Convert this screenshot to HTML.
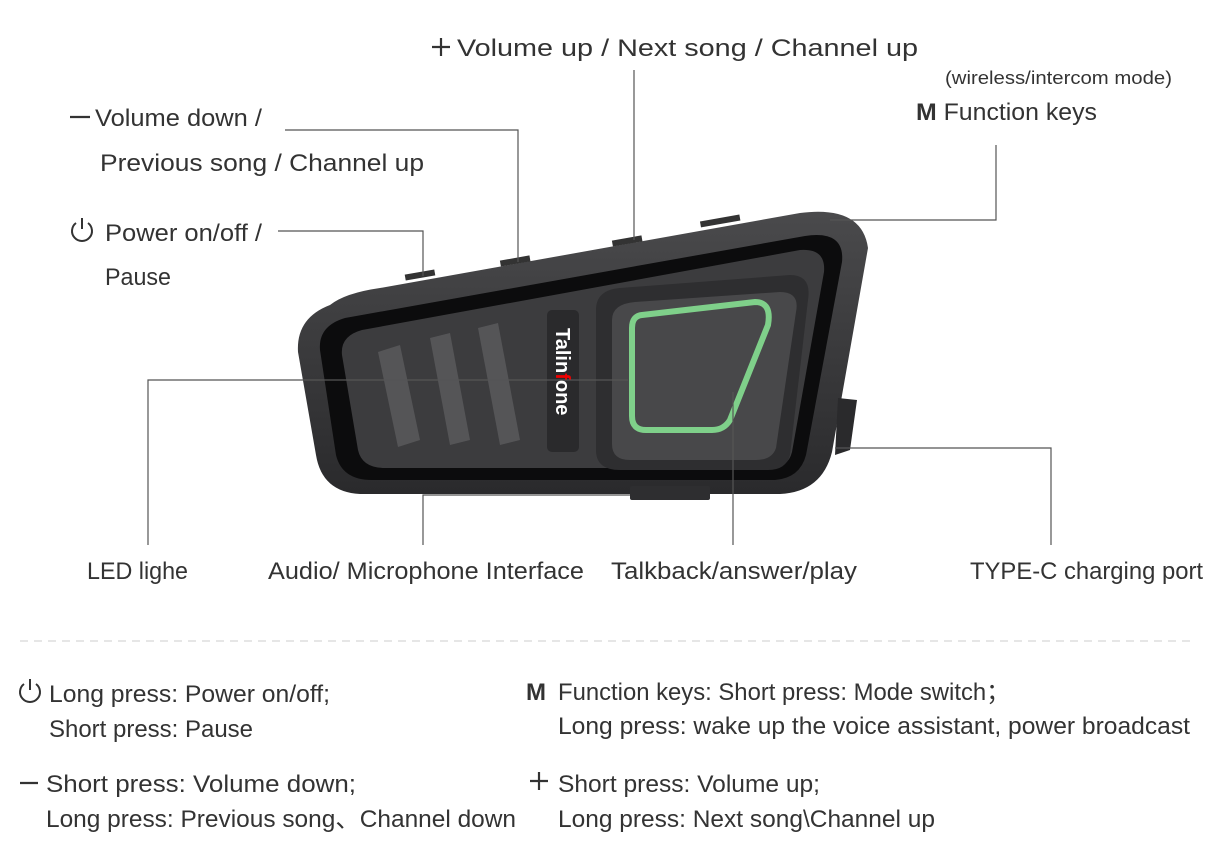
<!DOCTYPE html>
<html><head><meta charset="utf-8"><style>
body{margin:0;background:#fff;}
svg text{font-family:"Liberation Sans",sans-serif;fill:#333;}
</style></head><body>
<svg width="1222" height="861" viewBox="0 0 1222 861" xmlns="http://www.w3.org/2000/svg">
<defs>
<linearGradient id="body" x1="0" y1="0" x2="0" y2="1"><stop offset="0" stop-color="#4a4a4c"/><stop offset="1" stop-color="#2a2a2c"/></linearGradient>
</defs>
<path d="M330,305 Q345,293 380,288 L800,213 Q862,205 868,248 L832,452 Q822,492 780,494 L360,494 Q322,492 316,455 L298,352 Q296,318 330,305 Z" fill="url(#body)"/>
<path d="M345,318 L805,236 Q845,230 842,262 L806,455 Q800,478 775,480 L372,480 Q342,480 336,455 L320,350 Q318,326 345,318 Z" fill="#0c0c0d"/>
<path d="M362,330 L800,250 Q826,248 824,272 L792,452 Q788,468 770,468 L385,468 Q362,468 358,450 L342,355 Q340,336 362,330 Z" fill="#3c3c3e"/>
<path d="M378,352 L400,345 L420,440 L398,447 Z" fill="#555557"/>
<path d="M430,338 L450,333 L470,440 L450,445 Z" fill="#555557"/>
<path d="M478,328 L498,323 L520,440 L500,445 Z" fill="#555557"/>
<rect x="547" y="310" width="32" height="142" rx="5" fill="#2a2a2c"/>
<text x="0" y="0" transform="translate(556,328) rotate(90)" font-size="20" font-weight="bold" style="fill:#fff">Talin<tspan style="fill:#e00">f</tspan>one</text>
<path d="M620,288 L790,275 Q812,275 808,300 L790,455 Q786,470 768,470 L620,470 Q596,470 596,450 L596,310 Q596,290 620,288 Z" fill="#2e2e30"/>
<path d="M635,302 L780,292 Q800,292 796,312 L776,448 Q772,460 756,460 L630,460 Q612,460 612,444 L612,320 Q612,304 635,302 Z" fill="#48484a"/>
<path d="M642,315 L755,302 Q772,302 768,325 L730,420 Q724,430 712,430 L646,430 Q632,430 632,416 L632,328 Q632,316 642,315 Z" fill="none" stroke="#7fd08a" stroke-width="6"/>
<path d="M838,398 L857,400 L850,450 L835,455 Z" fill="#2a2a2c"/>
<rect x="630" y="486" width="80" height="14" rx="2" fill="#2e2e30"/>
<rect x="405" y="272" width="30" height="6" fill="#333" transform="rotate(-10 420 275)"/>
<rect x="500" y="258" width="30" height="6" fill="#333" transform="rotate(-10 515 260)"/>
<rect x="612" y="238" width="30" height="6" fill="#333" transform="rotate(-10 627 240)"/>
<rect x="700" y="218" width="40" height="6" fill="#333" transform="rotate(-10 720 220)"/>
<g stroke="#555" stroke-width="1.2" fill="none">
<polyline points="285,130 518,130 518,262"/>
<polyline points="278,231 423,231 423,276"/>
<polyline points="634,70 634,240"/>
<polyline points="996,145 996,220 830,220"/>
<polyline points="148,545 148,380 628,380"/>
<polyline points="423,545 423,495 630,495"/>
<polyline points="733,545 733,392"/>
<polyline points="1051,545 1051,448 835,448"/>
</g>
<g stroke="#333" stroke-width="2.2">
<line x1="432" y1="47" x2="450" y2="47"/><line x1="441" y1="38" x2="441" y2="56"/>
<line x1="70" y1="117" x2="90" y2="117"/>
<line x1="20" y1="783" x2="38" y2="783"/>
<line x1="530" y1="781" x2="548" y2="781"/><line x1="539" y1="772" x2="539" y2="790"/>
</g>
<g font-size="24">
<text x="457" y="56" textLength="461" lengthAdjust="spacingAndGlyphs">Volume up / Next song / Channel up</text>
<text x="945" y="84" font-size="18" textLength="227" lengthAdjust="spacingAndGlyphs">(wireless/intercom mode)</text>
<text x="916" y="120" textLength="181" lengthAdjust="spacingAndGlyphs"><tspan font-weight="bold">M</tspan> Function keys</text>
<text x="95" y="126" textLength="167" lengthAdjust="spacingAndGlyphs">Volume down /</text>
<text x="100" y="171" textLength="324" lengthAdjust="spacingAndGlyphs">Previous song / Channel up</text>
<text x="105" y="241" textLength="157" lengthAdjust="spacingAndGlyphs">Power on/off /</text>
<text x="105" y="285" textLength="66" lengthAdjust="spacingAndGlyphs">Pause</text>
<text x="87" y="579" textLength="101" lengthAdjust="spacingAndGlyphs">LED lighe</text>
<text x="268" y="579" textLength="316" lengthAdjust="spacingAndGlyphs">Audio/ Microphone Interface</text>
<text x="611" y="579" textLength="246" lengthAdjust="spacingAndGlyphs">Talkback/answer/play</text>
<text x="970" y="579" textLength="233" lengthAdjust="spacingAndGlyphs">TYPE-C charging port</text>
<text x="49" y="702" textLength="281" lengthAdjust="spacingAndGlyphs">Long press: Power on/off;</text>
<text x="49" y="737" textLength="204" lengthAdjust="spacingAndGlyphs">Short press: Pause</text>
<text x="46" y="792" textLength="310" lengthAdjust="spacingAndGlyphs">Short press: Volume down;</text>
<text x="46" y="827" textLength="470" lengthAdjust="spacingAndGlyphs">Long press: Previous song、Channel down</text>
<text x="526" y="700" font-weight="bold">M</text>
<text x="558" y="700" textLength="452" lengthAdjust="spacingAndGlyphs">Function keys: Short press: Mode switch；</text>
<text x="558" y="734" textLength="632" lengthAdjust="spacingAndGlyphs">Long press: wake up the voice assistant, power broadcast</text>
<text x="558" y="792" textLength="262" lengthAdjust="spacingAndGlyphs">Short press: Volume up;</text>
<text x="558" y="827" textLength="377" lengthAdjust="spacingAndGlyphs">Long press: Next song\Channel up</text>
</g>
<g stroke="#333" stroke-width="2" fill="none"><path d="M76,223 A10,10 0 1 0 88,223"/><line x1="82" y1="218" x2="82" y2="229"/></g>
<line x1="20" y1="641" x2="1190" y2="641" stroke="#ccc" stroke-width="1" stroke-dasharray="8,6"/>
<g stroke="#333" stroke-width="2" fill="none"><path d="M24,684 A10,10 0 1 0 36,684"/><line x1="30" y1="679" x2="30" y2="690"/></g>
</svg>
</body></html>
